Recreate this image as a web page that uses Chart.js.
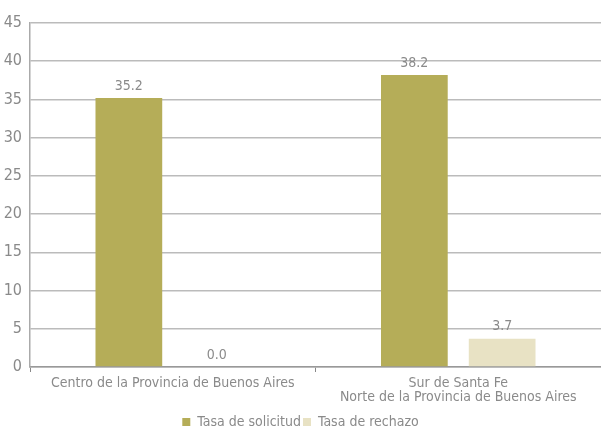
<!DOCTYPE html>
<html>
<head>
<meta charset="utf-8">
<script src="https://cdn.jsdelivr.net/npm/chart.js@4/dist/chart.umd.min.js"></script>
<style>
html,body{margin:0;padding:0;background:#fff;}
#wrap{width:601px;height:429px;position:relative;}
</style>
</head>
<body>
<div id="wrap"><canvas id="c" width="601" height="429"></canvas></div>
<script>
const categories = [
  "Centro de la Provincia de Buenos Aires",
  ["Sur de Santa Fe", "Norte de la Provincia de Buenos Aires"]
];
const seriesNames = ["Tasa de solicitud", "Tasa de rechazo"];
const solicitud = [35.2, 38.2];
const rechazo = [0.0, 3.7];
const yTicks = [0, 5, 10, 15, 20, 25, 30, 35, 40, 45];

const FONT = "'Liberation Sans Narrow', 'DejaVu Sans Condensed', 'Arial Narrow', sans-serif";

const valueLabels = {
  id: 'valueLabels',
  afterDatasetsDraw(chart) {
    const ctx = chart.ctx;
    ctx.save();
    ctx.font = "14px " + FONT;
    ctx.fillStyle = "#8a8a8a";
    ctx.textAlign = "center";
    ctx.textBaseline = "bottom";
    chart.data.datasets.forEach((ds, i) => {
      const meta = chart.getDatasetMeta(i);
      meta.data.forEach((bar, j) => {
        ctx.fillText(ds.data[j].toFixed(1), bar.x, bar.y - 5);
      });
    });
    ctx.restore();
  }
};

new Chart(document.getElementById('c'), {
  type: 'bar',
  data: {
    labels: categories,
    datasets: [
      { label: seriesNames[0], data: solicitud, backgroundColor: '#b5ad58', categoryPercentage: 0.615, barPercentage: 0.76 },
      { label: seriesNames[1], data: rechazo, backgroundColor: '#e8e2c4', categoryPercentage: 0.615, barPercentage: 0.76 }
    ]
  },
  options: {
    responsive: false,
    animation: false,
    layout: { padding: { top: 23, right: 0, left: 0, bottom: -10 } },
    plugins: {
      legend: {
        position: 'bottom',
        labels: {
          boxWidth: 8, boxHeight: 8, padding: 2,
          color: '#8a8a8a',
          font: { family: FONT, size: 14 }
        }
      },
      tooltip: { enabled: false }
    },
    scales: {
      x: {
        afterFit(scale) { scale.height = 46; },
        grid: { display: true, drawOnChartArea: false, drawTicks: true, tickLength: 5, color: '#888', offset: true },
        border: { display: true, color: '#999', width: 1.5 },
        ticks: { color: '#8a8a8a', font: { family: FONT, size: 14, lineHeight: 1.0 }, padding: 4, maxRotation: 0, autoSkip: false }
      },
      y: {
        min: 0, max: 45,
        afterBuildTicks(scale) { scale.ticks = yTicks.map(v => ({ value: v })); },
        afterFit(scale) { scale.width = 30; },
        grid: { color: '#bbbbbb', lineWidth: 1.5, drawTicks: false },
        border: { display: true, color: '#aaa', width: 1.5 },
        ticks: { color: '#8a8a8a', font: { family: FONT, size: 16 }, padding: 8 }
      }
    }
  },
  plugins: [valueLabels]
});
</script>
</body>
</html>
